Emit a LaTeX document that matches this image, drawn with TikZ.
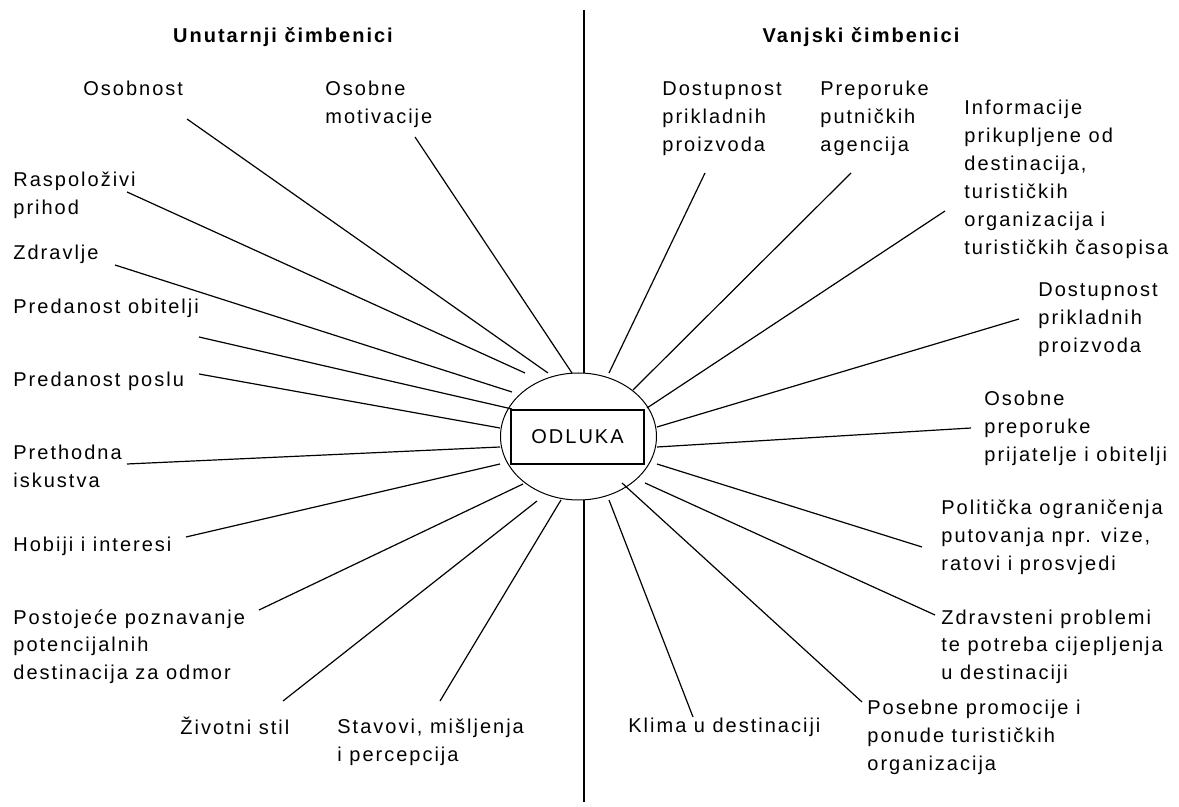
\documentclass[tikz,border=0pt]{standalone}
\usepackage{fontspec}
\setmainfont{Liberation Sans}[LetterSpace=10]
\usetikzlibrary{shapes.geometric}

\begin{document}
\begin{tikzpicture}[x=0.5pt, y=-0.5pt,
    oznaka/.style={anchor=base west, align=left, inner sep=0pt, font=\fontsize{10}{14}\selectfont},
    naslov/.style={inner sep=0pt, font=\fontsize{10}{14}\selectfont\bfseries},
    zraka/.style={line width=0.6pt}]
        \useasboundingbox (0,0) rectangle (1179,807);
        % Naslovi
        \node[naslov] (unutarnji) at (283,37) {Unutarnji čimbenici};
        \node[naslov] (vanjski) at (861,37) {Vanjski čimbenici};
        % Odluka
        \node[draw, ellipse, line width=0.5pt, minimum width=78pt, minimum height=63.5pt, inner sep=0pt, outer sep=0pt] (krug) at (578.5,436.5) {};
        \node[draw, line width=1pt, minimum width=66.5pt, minimum height=27pt, inner sep=0pt, font=\fontsize{10}{14}\selectfont] (odluka) at (577.5,437) {ODLUKA};
        % Razdjelnica
        \coordinate (gore) at (584,10);
        \coordinate (dolje) at (584,802);
        \draw[line width=0.8pt] (gore) -- (krug.north -| gore);
        \draw[line width=0.8pt] (krug.south -| dolje) -- (dolje);
        % Unutarnji cimbenici (y = osnovica zadnjeg retka)
        \node[oznaka] (osobnost) at (83,96) {Osobnost};
        \node[oznaka] (motivacija) at (325,124) {Osobne\\motivacije};
        \node[oznaka] (prihod) at (13,215) {Raspoloživi\\prihod};
        \node[oznaka] (zdravlje) at (13,260) {Zdravlje};
        \node[oznaka] (obitelj) at (13,314) {Predanost obitelji};
        \node[oznaka] (posao) at (13,387) {Predanost poslu};
        \node[oznaka] (iskustva) at (13,488) {Prethodna\\iskustva};
        \node[oznaka] (hobiji) at (13,552) {Hobiji i interesi};
        \node[oznaka] (poznavanje) at (13,680) {Postojeće poznavanje\\potencijalnih\\destinacija za odmor};
        \node[oznaka] (stil) at (180,734) {Životni stil};
        \node[oznaka] (stavovi) at (337,762) {Stavovi, mišljenja\\i percepcija};
        % Vanjski cimbenici
        \node[oznaka] (dostupnost) at (662,152) {Dostupnost\\prikladnih\\proizvoda};
        \node[oznaka] (agencije) at (820,152) {Preporuke\\putničkih\\agencija};
        \node[oznaka] (informacije) at (964,255) {Informacije\\prikupljene od\\destinacija,\\turističkih\\organizacija i\\turističkih časopisa};
        \node[oznaka] (proizvodi) at (1038,353) {Dostupnost\\prikladnih\\proizvoda};
        \node[oznaka] (preporuke) at (984,462) {Osobne\\preporuke\\prijatelje i obitelji};
        \node[oznaka] (politika) at (941,571) {Politička ograničenja\\putovanja npr. vize,\\ratovi i prosvjedi};
        \node[oznaka] (zdravstvo) at (941,680) {Zdravsteni problemi\\te potreba cijepljenja\\u destinaciji};
        \node[oznaka] (promocije) at (867,770) {Posebne promocije i\\ponude turističkih\\organizacija};
        \node[oznaka] (klima) at (628,733) {Klima u destinaciji};
        % Krajevi zraka
        \coordinate (osobnost-v) at (187,119);   \coordinate (osobnost-u) at (548,373);
        \coordinate (motivacija-v) at (415,137); \coordinate (motivacija-u) at (572,373);
        \coordinate (prihod-v) at (127,192);     \coordinate (prihod-u) at (525,373);
        \coordinate (zdravlje-v) at (115,265);   \coordinate (zdravlje-u) at (512,392);
        \coordinate (obitelj-v) at (199,337);    \coordinate (obitelj-u) at (512,409);
        \coordinate (posao-v) at (199,374);      \coordinate (posao-u) at (500,428);
        \coordinate (iskustva-v) at (127,464);   \coordinate (iskustva-u) at (500,447);
        \coordinate (hobiji-v) at (186,537);     \coordinate (hobiji-u) at (500,464);
        \coordinate (poznavanje-v) at (259,610); \coordinate (poznavanje-u) at (523,484);
        \coordinate (stil-v) at (283,701);       \coordinate (stil-u) at (537,501);
        \coordinate (stavovi-v) at (440,701);    \coordinate (stavovi-u) at (561,500);
        \coordinate (dostupnost-v) at (705,173); \coordinate (dostupnost-u) at (609,373);
        \coordinate (agencije-v) at (851,173);   \coordinate (agencije-u) at (633,390);
        \coordinate (informacije-v) at (945,211);\coordinate (informacije-u) at (647,408);
        \coordinate (proizvodi-v) at (1019,319); \coordinate (proizvodi-u) at (657,427);
        \coordinate (preporuke-v) at (971,428);  \coordinate (preporuke-u) at (657,447);
        \coordinate (politika-v) at (922,547);   \coordinate (politika-u) at (657,464);
        \coordinate (zdravstvo-v) at (935,615);  \coordinate (zdravstvo-u) at (645,483);
        \coordinate (promocije-v) at (862,702);  \coordinate (promocije-u) at (622,483);
        \coordinate (klima-v) at (693,717);      \coordinate (klima-u) at (609,500);
        % Zrake
        \foreach \z in {osobnost, motivacija, prihod, zdravlje, obitelj, posao, iskustva, hobiji, poznavanje, stil, stavovi,
                        dostupnost, agencije, informacije, proizvodi, preporuke, politika, zdravstvo, promocije, klima}
          \draw[zraka] (\z-v) -- (\z-u);
      \end{tikzpicture}
\end{document}
